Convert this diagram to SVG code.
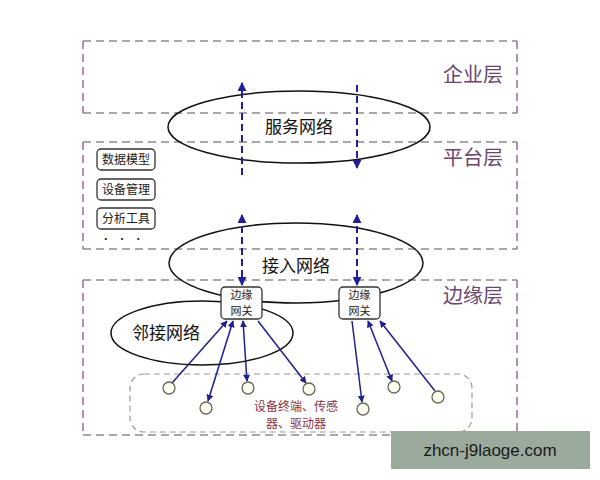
<svg xmlns="http://www.w3.org/2000/svg" width="600" height="480" viewBox="0 0 600 480">
<defs>
<marker id="ah" viewBox="0 0 10 10" refX="9" refY="5" markerWidth="7" markerHeight="7" markerUnits="userSpaceOnUse" orient="auto-start-reverse">
<path d="M0,0 L10,5 L0,10 z" fill="#1f1f8f"/>
</marker>
<marker id="ahd" viewBox="0 0 10 10" refX="9" refY="5" markerWidth="9" markerHeight="9" markerUnits="userSpaceOnUse" orient="auto-start-reverse">
<path d="M0,0 L10,5 L0,10 z" fill="#1f1f99"/>
</marker>
</defs>
<style>
.hb{stroke:#8e8a90;stroke-width:1.5;stroke-dasharray:8,5;fill:none}
.vb{stroke:#9a6aa0;stroke-width:1.5;stroke-dasharray:8,5;fill:none}
.lay{font-family:"Noto Sans CJK SC",sans-serif;font-size:20px;fill:#6a466e;text-anchor:end}
.ell{fill:none;stroke:#111;stroke-width:1.5}
.big{font-family:"Noto Sans CJK SC",sans-serif;font-size:17px;fill:#111;text-anchor:middle}
.box{fill:#fff;stroke:#333;stroke-width:1.3}
.sm{font-family:"Noto Sans CJK SC",sans-serif;font-size:12px;fill:#222;text-anchor:middle}
.gw{font-family:"Noto Sans CJK SC",sans-serif;font-size:11px;fill:#222;text-anchor:middle}
.dv{stroke:#1f1f99;stroke-width:2;stroke-dasharray:7,4;fill:none}
.sv{stroke:#1f1f8f;stroke-width:1.5;fill:none}
.dev{fill:#fffdf0;stroke:#666655;stroke-width:1.3}
.devt{font-family:"Noto Sans CJK SC",sans-serif;font-size:12px;fill:#8b3344;text-anchor:middle}
</style>
<rect width="600" height="480" fill="#fff"/>
<g id="layer-enterprise">
<path class="hb" d="M83,41 H517 M83,113 H517"/>
<path class="vb" d="M83,41 V113 M517,41 V113"/>
<text class="lay" x="503" y="82">企业层</text>
</g>
<g id="layer-platform">
<path class="hb" d="M83,142 H517 M83,249 H517"/>
<path class="vb" d="M83,142 V249 M517,142 V249"/>
<text class="lay" x="503" y="165">平台层</text>
</g>
<g id="layer-edge">
<path class="hb" d="M83,280 H517 M83,435 H517"/>
<path class="vb" d="M83,280 V435 M517,280 V435"/>
<text class="lay" x="503" y="303">边缘层</text>
</g>
<g id="devices-area">
<rect x="130" y="374" width="342" height="58" rx="14" fill="none" stroke="#999" stroke-width="1.2" stroke-dasharray="6,4"/>
<text class="devt" x="296" y="411">设备终端、传感</text>
<text class="devt" x="296" y="428">器、驱动器</text>
</g>
<g id="service-network">
<ellipse class="ell" cx="299" cy="127" rx="131" ry="36"/>
<text class="big" x="299" y="133">服务网络</text>
</g>
<g id="access-network">
<ellipse class="ell" cx="296" cy="263" rx="127" ry="40"/>
<text class="big" x="296" y="272">接入网络</text>
</g>
<g id="neighbor-network">
<ellipse class="ell" cx="202" cy="333" rx="91" ry="32"/>
<text class="big" x="166" y="339">邻接网络</text>
</g>
<g id="platform-tools">
<rect class="box" x="97" y="149" width="58" height="21" rx="4"/>
<text class="sm" x="126" y="164">数据模型</text>
<rect class="box" x="97" y="179" width="58" height="21" rx="4"/>
<text class="sm" x="126" y="194">设备管理</text>
<rect class="box" x="97" y="208" width="58" height="21" rx="4"/>
<text class="sm" x="126" y="223">分析工具</text>
<text class="sm" x="123" y="243" style="font-size:10px;letter-spacing:2px">· · ·</text>
</g>
<g id="connectors">
<line class="dv" x1="242" y1="175" x2="242" y2="83" marker-end="url(#ahd)"/>
<line class="dv" x1="357" y1="85" x2="357" y2="168" marker-end="url(#ahd)"/>
<line class="dv" x1="242" y1="215" x2="242" y2="285" marker-start="url(#ahd)" marker-end="url(#ahd)"/>
<line class="dv" x1="357" y1="215" x2="357" y2="285" marker-start="url(#ahd)" marker-end="url(#ahd)"/>
<line class="sv" x1="172" y1="383" x2="227" y2="321" marker-end="url(#ah)"/>
<line class="sv" x1="208" y1="401" x2="233" y2="321" marker-start="url(#ah)" marker-end="url(#ah)"/>
<line class="sv" x1="247" y1="381" x2="243" y2="321" marker-start="url(#ah)" marker-end="url(#ah)"/>
<line class="sv" x1="258" y1="321" x2="306" y2="383" marker-end="url(#ah)"/>
<line class="sv" x1="352" y1="321" x2="362" y2="402" marker-end="url(#ah)"/>
<line class="sv" x1="392" y1="381" x2="368" y2="321" marker-start="url(#ah)" marker-end="url(#ah)"/>
<line class="sv" x1="435" y1="391" x2="380" y2="321" marker-end="url(#ah)"/>
</g>
<g id="gateway-left">
<rect class="box" x="221" y="287" width="41" height="32" rx="4"/>
<text class="gw" x="241.5" y="299">边缘</text>
<text class="gw" x="241.5" y="315">网关</text>
</g>
<g id="gateway-right">
<rect class="box" x="339" y="287" width="41" height="32" rx="4"/>
<text class="gw" x="359.5" y="299">边缘</text>
<text class="gw" x="359.5" y="315">网关</text>
</g>
<g id="devices">
<circle class="dev" cx="169" cy="388" r="6"/>
<circle class="dev" cx="206" cy="408" r="6"/>
<circle class="dev" cx="248" cy="388" r="6"/>
<circle class="dev" cx="309" cy="389" r="6"/>
<circle class="dev" cx="363" cy="409" r="6"/>
<circle class="dev" cx="394" cy="387" r="6"/>
<circle class="dev" cx="438" cy="397" r="6"/>
</g>
<g id="watermark">
<rect x="391" y="431" width="199" height="38" fill="#9aab9d"/>
<text x="490" y="456" font-family="Liberation Sans, Arial, sans-serif" font-size="17" fill="#1a1a1a" text-anchor="middle">zhcn-j9laoge.com</text>
</g>
</svg>
